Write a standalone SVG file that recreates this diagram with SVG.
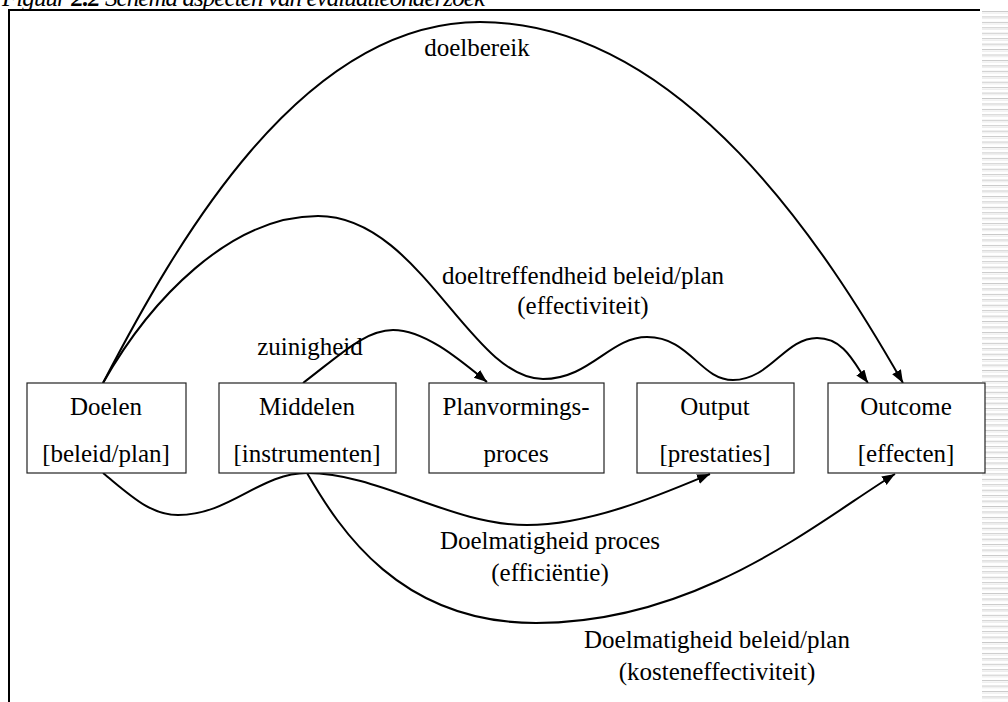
<svg xmlns="http://www.w3.org/2000/svg" width="1008" height="702" viewBox="0 0 1008 702">
<defs>
<style>
.t{font-family:"Liberation Serif","Times New Roman",serif;font-size:25px;fill:#000;text-anchor:middle}
.box{fill:#fff;stroke:#222;stroke-width:1.2}
.c{fill:none;stroke:#000;stroke-width:2}
.frame{stroke:#000;stroke-width:2;fill:none}
</style>
<marker id="ah" markerUnits="userSpaceOnUse" markerWidth="14" markerHeight="12" refX="13" refY="5" orient="auto">
<path d="M0,0 L13,5 L0,10 Z" fill="#000"/>
</marker>
<pattern id="stripes" x="0" y="11" width="26" height="5.44" patternUnits="userSpaceOnUse">
<rect x="0" y="0" width="26" height="1" fill="#c9c9c9"/>
<rect x="0" y="1.6" width="26" height="1" fill="#ebebeb"/>
</pattern>
</defs>
<rect width="1008" height="702" fill="#fff"/>
<rect x="982" y="11" width="26" height="691" fill="url(#stripes)"/>
<text x="2" y="6" style="font-family:'Liberation Serif','Times New Roman',serif;font-size:25px;font-style:italic" textLength="483">Figuur <tspan font-weight="bold">2.2</tspan>  Schema aspecten van evaluatieonderzoek</text>
<path class="frame" d="M9,702 V10 H980"/>
<g id="connectors">
<path class="c" d="M103,383 C175,245 300,22 480,22 C682,22 827,250 903,383" marker-end="url(#ah)"/>
<path class="c" d="M103,383 C150,300 230,216 318,216 C420,216 470,379 543,379 C590,379 610,337 647,337 C690,337 700,380 733,380 C770,380 785,338 817,338 C845,338 855,365 868,383" marker-end="url(#ah)"/>
<path class="c" d="M303,383 C340,355 365,330 393,330 C425,330 460,360 487,382" marker-end="url(#ah)"/>
<path class="c" d="M103,473 C130,495 150,515 178,515 C230,515 260,473 307,473 C380,473 450,525 527,525 C590,525 660,495 710,474" marker-end="url(#ah)"/>
<path class="c" d="M307,473 C340,530 400,623 536,623 C700,623 820,520 895,474" marker-end="url(#ah)"/>
</g>
<g id="labels">
<text class="t" x="477" y="56">doelbereik</text>
<text class="t" x="583" y="284">doeltreffendheid beleid/plan</text>
<text class="t" x="583" y="314">(effectiviteit)</text>
<text class="t" x="310" y="355">zuinigheid</text>
<text class="t" x="550" y="549">Doelmatigheid proces</text>
<text class="t" x="550" y="581">(efficiëntie)</text>
<text class="t" x="717" y="648">Doelmatigheid beleid/plan</text>
<text class="t" x="717" y="680">(kosteneffectiviteit)</text>
</g>
<g id="node-doelen">
<rect class="box" x="27" y="383" width="159" height="90"/>
<text class="t" x="106" y="415">Doelen</text>
<text class="t" x="106" y="462">[beleid/plan]</text>
</g>
<g id="node-middelen">
<rect class="box" x="219" y="383" width="177" height="90"/>
<text class="t" x="307" y="415">Middelen</text>
<text class="t" x="307" y="462">[instrumenten]</text>
</g>
<g id="node-planvorming">
<rect class="box" x="429" y="383" width="175" height="90"/>
<text class="t" x="516" y="415">Planvormings-</text>
<text class="t" x="516" y="462">proces</text>
</g>
<g id="node-output">
<rect class="box" x="637" y="383" width="157" height="90"/>
<text class="t" x="715" y="415">Output</text>
<text class="t" x="715" y="462">[prestaties]</text>
</g>
<g id="node-outcome">
<rect class="box" x="828" y="383" width="157" height="90"/>
<text class="t" x="906" y="415">Outcome</text>
<text class="t" x="906" y="462">[effecten]</text>
</g>
</svg>
